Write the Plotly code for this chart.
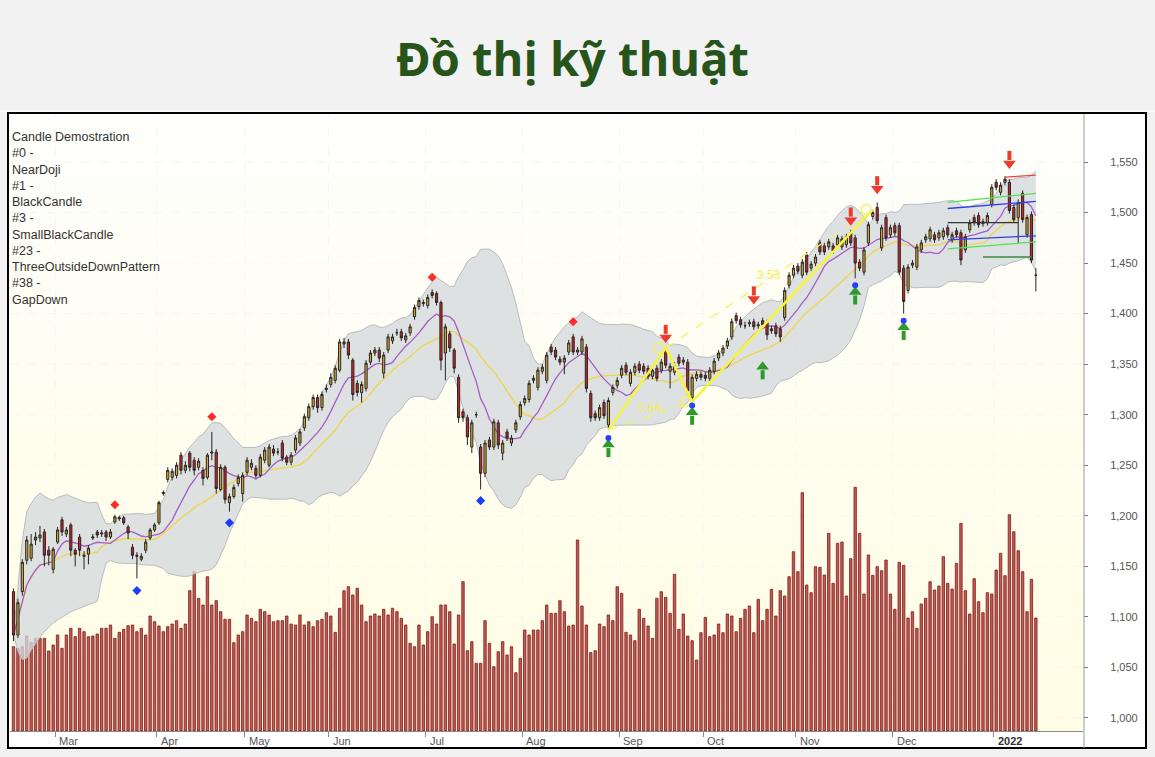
import plotly.graph_objects as go
import pandas as pd

# ---------------- data ----------------
opens = [1125,1082,1125,1156,1158,1176,1178,1184,1166,1147,
1174,1196,1182,1191,1166,1179,1161,1162,1178,1184,
1182,1184,1179,1194,1197,1198,1189,1169,1161,1157,
1166,1178,1186,1193,1222,1236,1238,1240,1260,1245,
1262,1255,1248,1245,1238,1262,1263,1226,1248,1213,
1219,1232,1222,1243,1248,1247,1240,1255,1250,1266,
1263,1272,1258,1253,1265,1272,1287,1297,1308,1317,
1307,1325,1330,1334,1344,1370,1372,1354,1331,1322,
1326,1352,1361,1364,1341,1364,1373,1381,1382,1374,
1381,1397,1407,1410,1408,1421,1420,1411,1361,1380,
1364,1337,1303,1297,1268,1300,1268,1242,1275,1268,
1292,1262,1283,1272,1285,1298,1312,1315,1334,1327,
1343,1334,1367,1364,1355,1352,1362,1377,1362,1362,
1367,1321,1301,1297,1312,1290,1322,1329,1339,1349,
1331,1342,1350,1348,1346,1338,1346,1344,1364,1343,
1342,1357,1352,1352,1317,1336,1340,1339,1336,1343,
1356,1361,1368,1377,1398,1394,1388,1390,1392,1388,
1393,1391,1385,1388,1385,1396,1428,1438,1447,1438,
1458,1445,1450,1470,1467,1466,1467,1468,1466,1468,
1480,1475,1451,1441,1470,1496,1505,1465,1495,1478,
1487,1487,1445,1423,1448,1446,1463,1473,1474,1478,
1475,1476,1485,1473,1482,1480,1463,1483,1495,1497,
1489,1490,1508,1530,1520,1530,1530,1505,1495,1519,
1478,1498,1438]

closes = [1082,1114,1154,1176,1172,1179,1181,1161,1161,1167,
1186,1184,1186,1166,1162,1166,1160,1168,1179,1181,
1183,1179,1184,1199,1198,1193,1183,1161,1160,1160,
1174,1186,1191,1213,1223,1245,1244,1250,1245,1250,
1248,1245,1254,1237,1260,1263,1227,1248,1216,1219,
1228,1238,1240,1255,1252,1240,1258,1265,1268,1262,
1263,1257,1253,1260,1277,1283,1298,1308,1317,1307,
1320,1326,1337,1346,1372,1372,1359,1320,1322,1330,
1351,1361,1364,1356,1359,1377,1377,1381,1376,1378,
1387,1406,1413,1411,1416,1418,1411,1354,1387,1366,
1346,1297,1297,1278,1292,1300,1242,1272,1268,1293,
1270,1272,1277,1277,1292,1310,1316,1331,1336,1344,
1347,1359,1362,1357,1352,1356,1371,1362,1364,1375,
1326,1297,1297,1307,1299,1314,1327,1334,1346,1342,
1342,1348,1344,1343,1338,1344,1336,1352,1349,1348,
1349,1351,1354,1324,1337,1340,1337,1336,1344,1353,
1361,1366,1373,1392,1393,1389,1388,1391,1387,1389,
1389,1379,1383,1380,1377,1423,1438,1445,1442,1451,
1441,1449,1456,1461,1461,1471,1462,1475,1474,1476,
1470,1450,1445,1463,1488,1500,1492,1485,1475,1485,
1480,1441,1412,1446,1450,1466,1470,1476,1483,1473,
1480,1482,1478,1478,1478,1453,1476,1490,1490,1488,
1491,1497,1525,1525,1527,1533,1502,1493,1510,1493,
1495,1453,1438]

highs = [1128,1118,1157,1180,1182,1184,1190,1187,1170,1169,
1189,1199,1189,1193,1168,1182,1165,1171,1182,1186,
1186,1186,1187,1201,1200,1200,1191,1172,1164,1163,
1177,1188,1193,1215,1225,1248,1247,1253,1263,1254,
1264,1258,1257,1248,1262,1283,1266,1251,1250,1222,
1231,1241,1243,1258,1256,1250,1261,1268,1271,1270,
1267,1275,1260,1263,1280,1286,1301,1311,1320,1320,
1323,1330,1341,1349,1375,1376,1375,1356,1334,1333,
1354,1364,1367,1367,1362,1380,1380,1385,1385,1381,
1390,1409,1416,1414,1419,1424,1422,1413,1390,1383,
1366,1340,1306,1300,1295,1303,1271,1275,1278,1296,
1295,1275,1286,1280,1295,1313,1319,1334,1339,1347,
1350,1362,1370,1367,1358,1359,1374,1380,1367,1378,
1370,1324,1304,1310,1315,1317,1330,1337,1349,1352,
1345,1351,1353,1351,1349,1347,1349,1355,1366,1351,
1352,1360,1357,1355,1340,1343,1343,1342,1347,1356,
1364,1369,1376,1395,1401,1397,1392,1394,1395,1392,
1396,1394,1388,1391,1388,1426,1441,1448,1450,1454,
1461,1452,1459,1473,1470,1474,1470,1478,1477,1479,
1483,1478,1454,1466,1491,1503,1510,1488,1498,1488,
1490,1490,1448,1449,1453,1469,1473,1479,1486,1481,
1483,1485,1488,1481,1485,1483,1479,1493,1498,1500,
1494,1500,1528,1533,1530,1536,1533,1508,1513,1522,
1498,1501,1445]

lows = [1076,1079,1121,1152,1155,1171,1174,1150,1151,1143,
1172,1180,1179,1160,1150,1160,1147,1152,1176,1178,
1179,1175,1177,1192,1195,1191,1177,1157,1138,1155,
1163,1176,1184,1191,1220,1233,1235,1237,1241,1242,
1244,1240,1245,1230,1236,1255,1222,1224,1212,1204,
1217,1229,1214,1240,1245,1237,1238,1252,1248,1259,
1260,1254,1250,1250,1262,1269,1284,1294,1305,1302,
1304,1322,1327,1331,1342,1366,1355,1314,1318,1312,
1323,1349,1358,1352,1336,1361,1370,1378,1373,1371,
1378,1394,1404,1407,1405,1415,1408,1344,1334,1362,
1341,1292,1293,1270,1262,1297,1226,1238,1265,1265,
1266,1255,1274,1269,1282,1295,1309,1312,1331,1324,
1340,1331,1359,1354,1349,1340,1359,1359,1359,1359,
1322,1293,1294,1294,1296,1285,1319,1326,1336,1339,
1328,1339,1341,1340,1335,1335,1333,1341,1346,1326,
1339,1348,1349,1320,1313,1333,1334,1333,1333,1340,
1353,1358,1365,1374,1390,1386,1385,1387,1384,1385,
1386,1374,1380,1377,1372,1393,1425,1435,1439,1435,
1438,1442,1447,1458,1458,1463,1459,1465,1463,1465,
1467,1435,1442,1438,1467,1493,1489,1462,1472,1475,
1477,1438,1400,1420,1445,1443,1460,1470,1471,1470,
1472,1473,1475,1470,1475,1448,1460,1480,1487,1485,
1486,1487,1505,1522,1517,1527,1499,1490,1470,1490,
1475,1450,1422]

volumes = [843,827,843,950,887,927,927,927,800,860,
960,827,960,1027,943,1027,993,943,950,970,
1027,1027,1060,927,987,1017,1053,1060,993,1027,
960,1150,1093,1050,993,1043,1070,1103,1027,1070,
1403,1593,1327,1260,1543,1260,1303,1193,1117,1117,
883,960,993,1160,1127,1093,1217,1193,1160,1093,
1103,1103,1150,1070,1060,1160,1060,1093,1043,1103,
1117,1183,1150,987,1227,1403,1443,1360,1427,1260,
1093,1150,1170,1150,1217,1160,1227,1193,1127,1060,
877,843,1060,860,993,1143,1070,1260,1260,1193,
870,1160,1493,803,893,677,677,1103,877,643,
793,893,760,843,583,727,1010,960,1010,1010,
1103,1260,1177,1177,1303,1193,1050,1060,1910,1250,
1060,783,803,1070,1043,1160,1103,1443,1377,987,
960,903,1217,1127,1050,927,1327,1393,1337,1177,
1567,1017,1170,950,903,710,983,1137,943,960,
1070,983,1170,1150,993,1127,1217,1250,983,1317,
1103,1217,1417,1150,1403,1350,1543,1793,1593,2383,
1460,1383,1643,1637,1560,1977,1477,1877,1890,1350,
1723,2437,1977,1370,1760,1557,1643,1603,1710,1370,
1217,1687,1657,1130,1193,1027,1270,1327,1493,1410,
1450,1743,1477,1420,1677,2077,1403,1170,1523,1293,
1183,1383,1370,1610,1777,1553,2163,1993,1803,1593,
1193,1517,1130]

month_start_idx = [10, 33, 53, 72, 94, 116, 138, 157, 178, 200, 223]
month_labels = ["Mar", "Apr", "May", "Jun", "Jul", "Aug", "Sep", "Oct", "Nov", "Dec", "2022"]
price_ticks = [1000, 1050, 1100, 1150, 1200, 1250, 1300, 1350, 1400, 1450, 1500, 1550]

sell_diamond_idx = [23, 45, 95, 127]
sell_diamond_px = [1211, 1298, 1436, 1392]
buy_diamond_idx = [28, 49, 106]
buy_diamond_px = [1126, 1193, 1215]
down_arrow_idx = [148, 168, 190, 196, 226]
down_arrow_tip = [1372, 1410, 1488, 1519, 1544]
up_arrow_idx = [135, 154, 170, 191, 202]
up_arrow_tip = [1275, 1307, 1352, 1426, 1391]
dot_arrow_idx = [135, 154, 191, 202]
dot_arrow_px = [1277, 1309, 1428, 1393]

pattern_idx = [135, 148, 154, 195]
pattern_px = [1285, 1366, 1313, 1503]
pattern_labels = ["0.64", "3.53"]

chan_x = [212, 232]
chan_green_hi = [1510, 1519]
chan_blue_hi = [1504, 1511]
chan_blue_lo = [1473, 1477]
chan_green_lo = [1464, 1471]
resist_x = [225, 232]
resist_px = [1535, 1537]
pivot_x = [212, 228]
pivot_px = [1490, 1490]
support_x = [220, 231]
support_px = [1456, 1456]

info_lines = ["Candle Demostration", "#0 -", "NearDoji", "#1 -", "BlackCandle", "#3 -",
              "SmallBlackCandle", "#23 -", "ThreeOutsideDownPattern", "#38 -", "GapDown"]
title_text = "Đồ thị kỹ thuật"

# ---------------- indicators ----------------
N = len(closes)
x = list(range(N))
s = pd.Series(closes, dtype=float)
ma20 = s.rolling(20, min_periods=1).mean()
sd20 = s.rolling(20, min_periods=1).std(ddof=0).fillna(0)
bb_up = ma20 + 2 * sd20
bb_lo = ma20 - 2 * sd20
ma10 = s.rolling(10, min_periods=1).mean()

xr = [-0.8, 242.7]
yr_vol = [0, 6160]
yr_px = [987.1, 1596.5]


def px_to_vol(p):
    return yr_vol[0] + (p - yr_px[0]) / (yr_px[1] - yr_px[0]) * (yr_vol[1] - yr_vol[0])


fig = go.Figure()

# layer 1 (y): background gradient of plot area + grid
fig.add_trace(go.Scatter(x=[xr[0], xr[1], xr[1], xr[0], xr[0]],
                         y=[yr_vol[0], yr_vol[0], yr_vol[1], yr_vol[1], yr_vol[0]],
                         mode="lines", fill="toself", line=dict(width=0),
                         fillgradient=dict(type="vertical",
                                           colorscale=[[0, "#fffde3"], [1, "#fefefc"]]),
                         hoverinfo="skip", xaxis="x", yaxis="y"))
gx, gy = [], []
for p in price_ticks:
    gx += [xr[0], xr[1], None]
    gy += [px_to_vol(p), px_to_vol(p), None]
for m in month_start_idx:
    gx += [m - 0.5, m - 0.5, None]
    gy += [yr_vol[0], yr_vol[1], None]
fig.add_trace(go.Scatter(x=gx, y=gy, mode="lines", line=dict(color="#f6f6f6", width=1, dash="dash"),
                         hoverinfo="skip", yaxis="y"))

# layer 2 (y2): volume
fig.add_trace(go.Bar(x=x, y=volumes, width=0.55,
                     marker=dict(color="#ba5e56", line=dict(color="#861818", width=0.8)),
                     hoverinfo="skip", xaxis="x", yaxis="y2"))

# layer 3 (y3, visible price axis): bollinger band and averages
fig.add_trace(go.Scatter(x=x, y=bb_up, mode="lines", line=dict(color="#b8bcc0", width=1),
                         hoverinfo="skip", yaxis="y3"))
fig.add_trace(go.Scatter(x=x, y=bb_lo, mode="lines", line=dict(color="#b8bcc0", width=1),
                         fill="tonexty", fillcolor="rgba(212,216,220,0.78)",
                         hoverinfo="skip", yaxis="y3"))
fig.add_trace(go.Scatter(x=x, y=ma20, mode="lines", line=dict(color="#f0d448", width=1.3),
                         hoverinfo="skip", yaxis="y3"))
fig.add_trace(go.Scatter(x=x, y=ma10, mode="lines", line=dict(color="#a55ec6", width=1.3),
                         hoverinfo="skip", yaxis="y3"))

# layer 4 (y4): candles
fig.add_trace(go.Candlestick(x=x, open=opens, high=highs, low=lows, close=closes,
                             increasing=dict(line=dict(color="#262626", width=1), fillcolor="#dcaa2a"),
                             decreasing=dict(line=dict(color="#262626", width=1), fillcolor="#d02424"),
                             whiskerwidth=0, hoverinfo="skip", xaxis="x", yaxis="y4"))

# layer 5 (y5): pattern lines, channel lines, signals
fig.add_trace(go.Scatter(x=pattern_idx, y=pattern_px, mode="lines",
                         line=dict(color="#f7f53a", width=2.5), hoverinfo="skip", yaxis="y5"))
fig.add_trace(go.Scatter(x=[pattern_idx[0], pattern_idx[2], None, pattern_idx[1], pattern_idx[3]],
                         y=[pattern_px[0], pattern_px[2], None, pattern_px[1], pattern_px[3]],
                         mode="lines", line=dict(color="#f7f060", width=1.3, dash="dash"),
                         hoverinfo="skip", yaxis="y5"))
fig.add_trace(go.Scatter(x=[i - 1.5 for i in pattern_idx[1:]], y=pattern_px[1:], mode="markers",
                         marker=dict(symbol="circle-open", size=10, color="#f7f060", line=dict(width=1.5)),
                         hoverinfo="skip", yaxis="y5"))
for xs, ys, col in [(chan_x, chan_green_hi, "#55e055"), (chan_x, chan_blue_hi, "#3040e8"),
                    (chan_x, chan_blue_lo, "#3040e8"), (chan_x, chan_green_lo, "#55e055"),
                    (resist_x, resist_px, "#f04040"), (pivot_x, pivot_px, "#333333"),
                    (support_x, support_px, "#3a8a3a")]:
    fig.add_trace(go.Scatter(x=xs, y=ys, mode="lines", line=dict(color=col, width=1.3),
                             hoverinfo="skip", yaxis="y5"))

fig.add_trace(go.Scatter(x=sell_diamond_idx, y=sell_diamond_px, mode="markers",
                         marker=dict(symbol="diamond", size=7, color="#ff2a2a"), hoverinfo="skip", yaxis="y5"))
fig.add_trace(go.Scatter(x=buy_diamond_idx, y=buy_diamond_px, mode="markers",
                         marker=dict(symbol="diamond", size=7, color="#1e3cff"), hoverinfo="skip", yaxis="y5"))

sx, sy = [], []
for i, t in zip(down_arrow_idx, down_arrow_tip):
    sx += [i, i, None]
    sy += [t + 8, t + 17, None]
fig.add_trace(go.Scatter(x=sx, y=sy, mode="lines", line=dict(color="#f03a2a", width=4),
                         hoverinfo="skip", yaxis="y5"))
fig.add_trace(go.Scatter(x=down_arrow_idx, y=[t + 4.5 for t in down_arrow_tip], mode="markers",
                         marker=dict(symbol="triangle-down", size=11, color="#f03a2a"),
                         hoverinfo="skip", yaxis="y5"))
sx, sy = [], []
for i, t in zip(up_arrow_idx, up_arrow_tip):
    sx += [i, i, None]
    sy += [t - 8, t - 17, None]
fig.add_trace(go.Scatter(x=sx, y=sy, mode="lines", line=dict(color="#2e9a2e", width=4),
                         hoverinfo="skip", yaxis="y5"))
fig.add_trace(go.Scatter(x=up_arrow_idx, y=[t - 4.5 for t in up_arrow_tip], mode="markers",
                         marker=dict(symbol="triangle-up", size=11, color="#2e9a2e"),
                         hoverinfo="skip", yaxis="y5"))
fig.add_trace(go.Scatter(x=dot_arrow_idx, y=dot_arrow_px, mode="markers",
                         marker=dict(symbol="circle", size=6, color="#2a40ff"),
                         hoverinfo="skip", yaxis="y5"))

# ---------------- layout ----------------
L, R, T, B = 10, 72, 115, 26
W, H = 1155, 757
pw, ph = W - L - R, H - T - B


def px_x(p):
    return (p - L) / pw


def px_y(q):
    return (H - B - q) / ph


annotations = []
annotations.append(dict(text="<b>" + title_text + "</b>", xref="paper", yref="paper",
                        x=px_x(572), y=px_y(58), xanchor="center", yanchor="middle", showarrow=False,
                        font=dict(family="Open Sans", size=47, color="#26541a")))
annotations.append(dict(text="<br>".join(info_lines), xref="paper", yref="paper",
                        x=px_x(11), y=px_y(129), xanchor="left", yanchor="top", align="left",
                        showarrow=False, borderpad=0,
                        font=dict(family="Liberation Sans, Arial", size=12.5, color="#333333")))
for m, lab in zip(month_start_idx, month_labels):
    txt = "<b>" + lab + "</b>" if lab == "2022" else lab
    annotations.append(dict(text=txt, xref="x", yref="paper", x=m - 0.5, y=px_y(741),
                            xanchor="left", yanchor="middle", xshift=2, showarrow=False,
                            font=dict(family="Liberation Sans, Arial", size=11,
                                      color="#333333" if lab == "2022" else "#555555")))
annotations.append(dict(text=pattern_labels[0], xref="x", yref="y5",
                        x=(pattern_idx[0] + pattern_idx[2]) / 2, y=(pattern_px[0] + pattern_px[2]) / 2 + 8,
                        showarrow=False, font=dict(family="Liberation Sans, Arial", size=12, color="#f3ee5a")))
annotations.append(dict(text=pattern_labels[1], xref="x", yref="y5",
                        x=(pattern_idx[1] + pattern_idx[3]) / 2, y=(pattern_px[1] + pattern_px[3]) / 2 + 4,
                        showarrow=False, font=dict(family="Liberation Sans, Arial", size=12, color="#f3ee5a")))

shapes = [
    dict(type="rect", xref="paper", yref="paper", x0=px_x(8), x1=px_x(1146), y0=px_y(748), y1=px_y(113),
         fillcolor="white", line=dict(color="black", width=2), layer="below"),
    dict(type="line", xref="paper", yref="paper", x0=px_x(1084), x1=px_x(1084), y0=px_y(748), y1=px_y(114),
         line=dict(color="#999999", width=1), layer="above"),
    dict(type="line", xref="paper", yref="paper", x0=px_x(0), x1=px_x(1155), y0=px_y(111), y1=px_y(111),
         line=dict(color="#ffffff", width=1), layer="below"),
]

hidden_px = dict(range=yr_px, overlaying="y", visible=False, fixedrange=True)

fig.update_layout(
    width=W, height=H, margin=dict(l=L, r=R, t=T, b=B),
    paper_bgcolor="#f2f2f2", plot_bgcolor="#fffef2", showlegend=False,
    annotations=annotations, shapes=shapes,
    xaxis=dict(range=xr, showgrid=False, zeroline=False,
               tickvals=[m - 0.5 for m in month_start_idx], showticklabels=False,
               ticks="outside", ticklen=5, tickcolor="#888888",
               showline=True, linecolor="#8a8a8a", linewidth=1,
               rangeslider=dict(visible=False), fixedrange=True),
    yaxis=dict(range=yr_vol, visible=False, fixedrange=True),
    yaxis2=dict(range=yr_vol, overlaying="y", visible=False, fixedrange=True),
    yaxis3=dict(range=yr_px, overlaying="y", side="right", tickvals=price_ticks, tickformat=",d",
                ticks="outside", ticklen=4, tickcolor="#777777", ticklabelstandoff=20,
                tickfont=dict(family="Liberation Sans, Arial", size=11, color="#555555"),
                showgrid=False, zeroline=False, showline=False, fixedrange=True),
    yaxis4=hidden_px,
    yaxis5=hidden_px,
)

fig.write_html("out.html", config={"displayModeBar": False},
               post_script="document.body.style.margin='0px';")
